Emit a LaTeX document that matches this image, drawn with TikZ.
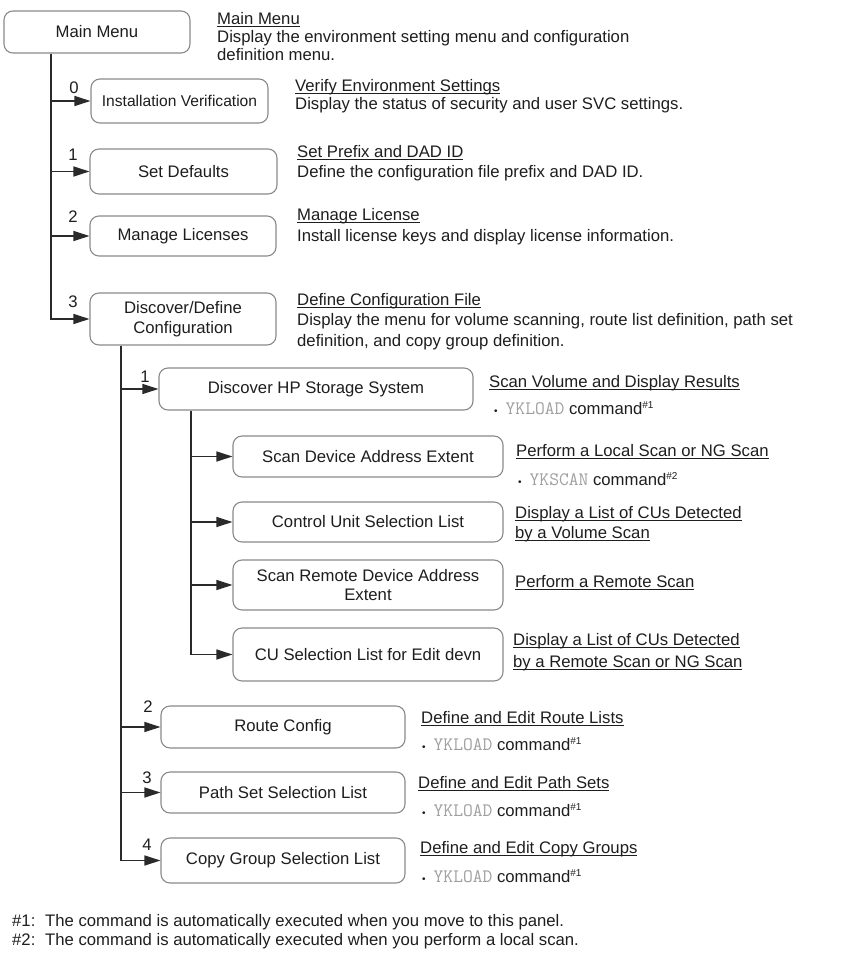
\documentclass[tikz,border=0pt]{standalone}
\usepackage{fontspec}
\setmainfont{Liberation Sans}
\usetikzlibrary{arrows.meta}
\definecolor{boxgray}{HTML}{8A8A8A}
\definecolor{linec}{HTML}{2A2A2A}
\definecolor{txtc}{HTML}{1E1E1E}
\definecolor{monogray}{HTML}{A0A0A0}
\newcommand\fsz{\fontsize{16.7}{19.5}\selectfont}
\newcommand\uln[1]{{\setbox0\hbox{#1}\rlap{\raisebox{-2.8pt}{\rule{\wd0}{0.9pt}}}\box0}}
\newcommand\ykl[2]{{\fontsize{10}{10}\selectfont\textbullet}\hspace{8pt}{\fontsize{19}{19}\ttfamily\color{monogray}#1} command\raisebox{6pt}{\fontsize{10}{10}\selectfont\#{}#2}}
\begin{document}
\begin{tikzpicture}[x=1pt,y=-1pt,
  every node/.style={font=\fsz, text=txtc},
  box/.style={draw=boxgray, line width=1.1pt, rounded corners=9pt, fill=white, align=center, inner sep=0pt},
  conn/.style={draw=linec, line width=1.4pt},
  arr/.style={conn, -{Triangle[length=16pt,width=10pt]}},
  txt/.style={anchor=base west, inner sep=0pt},
  num/.style={inner sep=0pt}]
\useasboundingbox[fill=white] (0,0) rectangle (843,957);
% level 1
\node[box, minimum width=186pt, minimum height=42pt] (main) at (97,32) {Main Menu};
\node[box, minimum width=177pt, minimum height=44pt, font=\fontsize{15.6}{18}\selectfont] (inst) at (179.5,101) {Installation Verification};
\node[box, minimum width=187pt, minimum height=45pt] (setdef) at (183.5,171.5) {Set Defaults};
\node[box, minimum width=186pt, minimum height=40pt] (manage) at (183,236) {Manage Licenses};
\node[box, minimum width=186pt, minimum height=52pt] (disc) at (183,319) {Discover/Define\\Configuration};
% level 2
\node[box, minimum width=314pt, minimum height=42pt] (hp) at (316,389) {Discover HP Storage System};
\node[box, minimum width=244pt, minimum height=42pt] (route) at (283,727) {Route Config};
\node[box, minimum width=244pt, minimum height=41pt] (path) at (283,792.5) {Path Set Selection List};
\node[box, minimum width=244pt, minimum height=45pt] (copy) at (283,860.5) {Copy Group Selection List};
% level 3
\node[box, minimum width=270pt, minimum height=41pt] (sdae) at (368,456.5) {Scan Device Address Extent};
\node[box, minimum width=270pt, minimum height=40pt] (cusl) at (368,522) {Control Unit Selection List};
\node[box, minimum width=270pt, minimum height=50pt] (srda) at (368,585) {Scan Remote Device Address\\Extent};
\node[box, minimum width=270pt, minimum height=53pt] (cued) at (368,654.5) {CU Selection List for Edit devn};
% trunks
\coordinate (t1) at (51,0);
\coordinate (t2) at (121,0);
\coordinate (t3) at (191,0);
\draw[arr] (t1 |- main.south) |- (disc.west);
\draw[arr] (t1 |- inst.west) -- (inst.west);
\draw[arr] (t1 |- setdef.west) -- (setdef.west);
\draw[arr] (t1 |- manage.west) -- (manage.west);
\draw[arr] (t2 |- disc.south) |- (copy.west);
\draw[arr] (t2 |- hp.west) -- (hp.west);
\draw[arr] (t2 |- route.west) -- (route.west);
\draw[arr] (t2 |- path.west) -- (path.west);
\draw[arr] (t3 |- hp.south) |- (cued.west);
\draw[arr] (t3 |- sdae.west) -- (sdae.west);
\draw[arr] (t3 |- cusl.west) -- (cusl.west);
\draw[arr] (t3 |- srda.west) -- (srda.west);
% numbers
\node[num] (n0) at (74,88) {0};
\node[num] (n1) at (73,155) {1};
\node[num] (n2) at (73,217) {2};
\node[num] (n3) at (73,302) {3};
\node[num] (m1) at (145,377) {1};
\node[num] (m2) at (148,707) {2};
\node[num] (m3) at (147,778) {3};
\node[num] (m4) at (147,845) {4};
% descriptions
\node[txt] (d1a) at (217,24.5) {\uln{Main Menu}};
\node[txt] (d1b) at (217,42.5) {Display the environment setting menu and configuration};
\node[txt] (d1c) at (217,60.5) {definition menu.};
\node[txt] (d2a) at (295,91.5) {\uln{Verify Environment Settings}};
\node[txt] (d2b) at (295,109.5) {Display the status of security and user SVC settings.};
\node[txt] (d3a) at (297,157.5) {\uln{Set Prefix and DAD ID}};
\node[txt] (d3b) at (297,177.5) {Define the configuration file prefix and DAD ID.};
\node[txt] (d4a) at (297,220.5) {\uln{Manage License}};
\node[txt] (d4b) at (297,241.5) {Install license keys and display license information.};
\node[txt] (d5a) at (297,305.5) {\uln{Define Configuration File}};
\node[txt] (d5b) at (297,325.5) {Display the menu for volume scanning, route list definition, path set};
\node[txt] (d5c) at (297,346) {definition, and copy group definition.};
\node[txt] (d6a) at (489,387.5) {\uln{Scan Volume and Display Results}};
\node[txt] (d6b) at (494,414.5) {\ykl{YKLOAD}{1}};
\node[txt] (d7a) at (516,456.5) {\uln{Perform a Local Scan or NG Scan}};
\node[txt] (d7b) at (518,485.5) {\ykl{YKSCAN}{2}};
\node[txt] (d8a) at (515,518.5) {\uln{Display a List of CUs Detected}};
\node[txt] (d8b) at (515,538.5) {\uln{by a Volume Scan}};
\node[txt] (d9a) at (515,587.5) {\uln{Perform a Remote Scan}};
\node[txt] (d10a) at (513,645.5) {\uln{Display a List of CUs Detected}};
\node[txt] (d10b) at (513,667.5) {\uln{by a Remote Scan or NG Scan}};
\node[txt] (d11a) at (421,723.5) {\uln{Define and Edit Route Lists}};
\node[txt] (d11b) at (422,750.5) {\ykl{YKLOAD}{1}};
\node[txt] (d12a) at (418,788.5) {\uln{Define and Edit Path Sets}};
\node[txt] (d12b) at (422,816.5) {\ykl{YKLOAD}{1}};
\node[txt] (d13a) at (420,853.5) {\uln{Define and Edit Copy Groups}};
\node[txt] (d13b) at (422,882.5) {\ykl{YKLOAD}{1}};
% footnotes
\node[txt] (f1) at (12,926) {\makebox[33pt][l]{\#1:}The command is automatically executed when you move to this panel.};
\node[txt] (f2) at (12,945.5) {\makebox[33pt][l]{\#2:}The command is automatically executed when you perform a local scan.};
\end{tikzpicture}
\end{document}
